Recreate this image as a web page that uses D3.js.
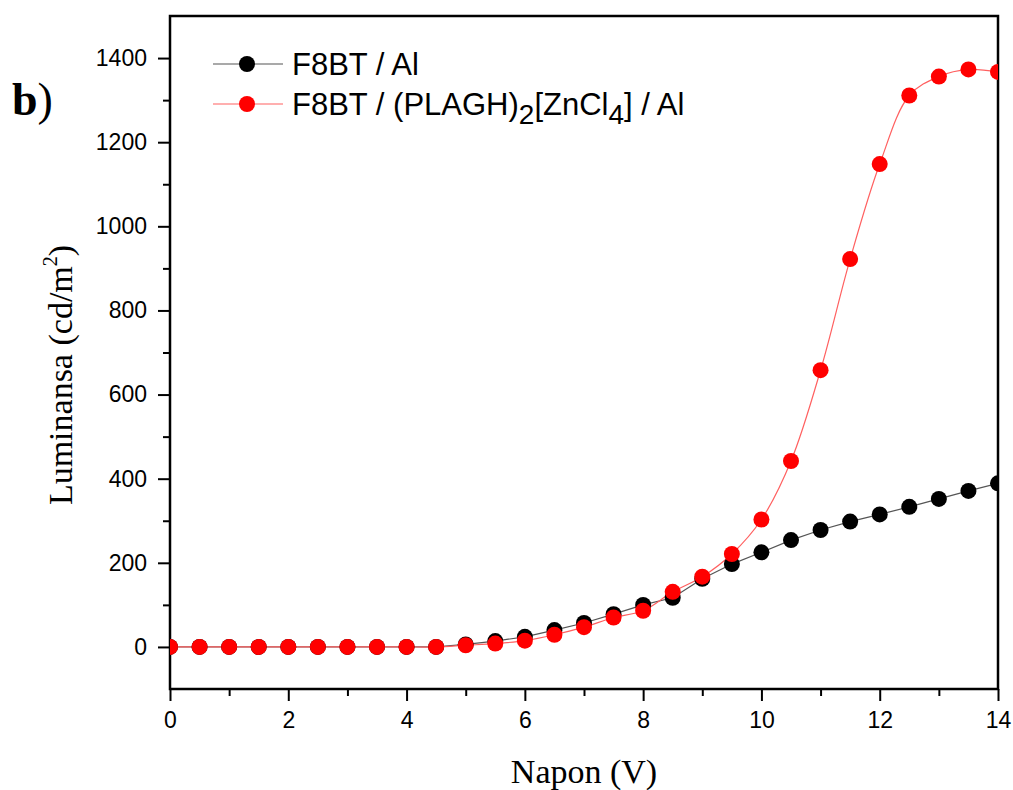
<!DOCTYPE html>
<html>
<head>
<meta charset="utf-8">
<script src="https://cdn.jsdelivr.net/npm/d3@7"></script>
<style>
  html, body { margin: 0; padding: 0; background: #fff; }
  svg { display: block; }
</style>
</head>
<body>
<svg id="chart" width="1013" height="790"></svg>
<script>
// Voltage steps (V)
const voltage = [0, 0.5, 1, 1.5, 2, 2.5, 3, 3.5, 4, 4.5, 5, 5.5, 6, 6.5, 7, 7.5, 8, 8.5, 9, 9.5, 10, 10.5, 11, 11.5, 12, 12.5, 13, 13.5, 14];

// Luminance (cd/m2) for F8BT / Al
const lumF8BT = [0, 0, 0, 0, 0, 0, 0, 0, 0, 0, 6, 14, 24, 40, 57, 78, 100, 117, 162, 197, 225, 254, 278, 298, 315, 333, 352, 371, 389];

// Luminance (cd/m2) for F8BT / (PLAGH)2[ZnCl4] / Al
const lumZn = [0, 0, 0, 0, 0, 0, 0, 0, 0, 0, 4, 8, 15, 29, 47, 70, 86, 131, 167, 221, 303, 442, 658, 922, 1148, 1311, 1356, 1373, 1367];

const xTicks = [0, 2, 4, 6, 8, 10, 12, 14];
const yTicks = [0, 200, 400, 600, 800, 1000, 1200, 1400];

const svg = d3.select("#chart");
const pLeft = 170, pRight = 998, pTop = 16, pBottom = 689;

const x = d3.scaleLinear().domain([0, 14]).range([pLeft, pRight]);
const y = d3.scaleLinear().domain([-100, 1500]).range([pBottom, pTop]);

const tickFont = "'Liberation Sans', Arial, sans-serif";
const serifFont = "'Liberation Serif', 'Times New Roman', serif";

// Bottom axis: major ticks labelled, minor ticks at odd volts
const xMinor = d3.range(1, 14, 2);
svg.append("g")
  .attr("transform", `translate(0,${pBottom})`)
  .call(d3.axisBottom(x).tickValues(xMinor).tickSize(7).tickFormat(""))
  .call(g => g.select(".domain").remove())
  .call(g => g.selectAll("line").attr("stroke", "#000").attr("stroke-width", 2));
const xAxis = svg.append("g")
  .attr("transform", `translate(0,${pBottom})`)
  .call(d3.axisBottom(x).tickValues(xTicks).tickSize(12).tickPadding(11).tickFormat(d3.format("d")));
xAxis.select(".domain").remove();
xAxis.selectAll("line").attr("stroke", "#000").attr("stroke-width", 2);
xAxis.selectAll("text").attr("font-family", tickFont).attr("font-size", 23).attr("fill", "#000");

// Left axis: major ticks labelled, minor ticks at odd hundreds
const yMinor = d3.range(100, 1500, 200);
svg.append("g")
  .attr("transform", `translate(${pLeft},0)`)
  .call(d3.axisLeft(y).tickValues(yMinor).tickSize(7).tickFormat(""))
  .call(g => g.select(".domain").remove())
  .call(g => g.selectAll("line").attr("stroke", "#000").attr("stroke-width", 2));
const yAxis = svg.append("g")
  .attr("transform", `translate(${pLeft},0)`)
  .call(d3.axisLeft(y).tickValues(yTicks).tickSize(12).tickPadding(11).tickFormat(d3.format("d")));
yAxis.select(".domain").remove();
yAxis.selectAll("line").attr("stroke", "#000").attr("stroke-width", 2);
yAxis.selectAll("text").attr("font-family", tickFont).attr("font-size", 23).attr("fill", "#000");

// Frame around the plot
svg.append("rect")
  .attr("x", pLeft).attr("y", pTop)
  .attr("width", pRight - pLeft).attr("height", pBottom - pTop)
  .attr("fill", "none").attr("stroke", "#000").attr("stroke-width", 2.5);

// Clip the curves to the plot box
svg.append("clipPath").attr("id", "plotClip")
  .append("rect").attr("x", pLeft).attr("y", pTop)
  .attr("width", pRight - pLeft).attr("height", pBottom - pTop);

const plot = svg.append("g").attr("clip-path", "url(#plotClip)");

const series = [
  { name: "F8BT / Al", values: lumF8BT, line: "#555", dot: "#000", curve: d3.curveLinear },
  { name: "Zn", values: lumZn, line: "#ff6060", dot: "#ff0000", curve: d3.curveCatmullRom.alpha(0.5) }
];

series.forEach(s => {
  const pts = voltage.map((v, i) => [v, s.values[i]]);
  plot.append("path")
    .datum(pts)
    .attr("fill", "none")
    .attr("stroke", s.line)
    .attr("stroke-width", 1.2)
    .attr("d", d3.line().x(d => x(d[0])).y(d => y(d[1])).curve(s.curve));
});

series.forEach(s => {
  plot.append("g").selectAll("circle")
    .data(voltage.map((v, i) => [v, s.values[i]]))
    .join("circle")
    .attr("cx", d => x(d[0]))
    .attr("cy", d => y(d[1]))
    .attr("r", 8)
    .attr("fill", s.dot);
});

// Legend
const legendRows = [
  { y: 64, line: "#555", dot: "#000" },
  { y: 104, line: "#ff6060", dot: "#ff0000" }
];
legendRows.forEach(r => {
  svg.append("line")
    .attr("x1", 213).attr("x2", 283).attr("y1", r.y).attr("y2", r.y)
    .attr("stroke", r.line).attr("stroke-width", 1.2);
  svg.append("circle").attr("cx", 247).attr("cy", r.y).attr("r", 8).attr("fill", r.dot);
});

svg.append("text")
  .attr("x", 292).attr("y", 64).attr("dy", "0.36em")
  .attr("font-family", tickFont).attr("font-size", 31)
  .text("F8BT / Al");

const t2 = svg.append("text")
  .attr("x", 292).attr("y", 104).attr("dy", "0.36em")
  .attr("font-family", tickFont).attr("font-size", 31);
t2.append("tspan").text("F8BT / (PLAGH)");
t2.append("tspan").attr("font-size", 28).attr("dy", 9).text("2");
t2.append("tspan").attr("dy", -9).text("[ZnCl");
t2.append("tspan").attr("font-size", 28).attr("dy", 9).text("4");
t2.append("tspan").attr("dy", -9).text("] / Al");

// Axis titles
svg.append("text")
  .attr("x", 584).attr("y", 783)
  .attr("text-anchor", "middle")
  .attr("font-family", serifFont).attr("font-size", 34)
  .text("Napon (V)");

const yt = svg.append("text")
  .attr("transform", "translate(72,375) rotate(-90)")
  .attr("text-anchor", "middle")
  .attr("font-family", serifFont).attr("font-size", 34);
yt.append("tspan").text("Luminansa (cd/m");
yt.append("tspan").attr("font-size", 20).attr("dy", -15).text("2");
yt.append("tspan").attr("dy", 15).text(")");

// Panel label
const pl = svg.append("text")
  .attr("x", 12).attr("y", 115)
  .attr("font-family", serifFont).attr("font-size", 46);
pl.append("tspan").attr("font-weight", "bold").text("b");
pl.append("tspan").text(")");
</script>
</body>
</html>
